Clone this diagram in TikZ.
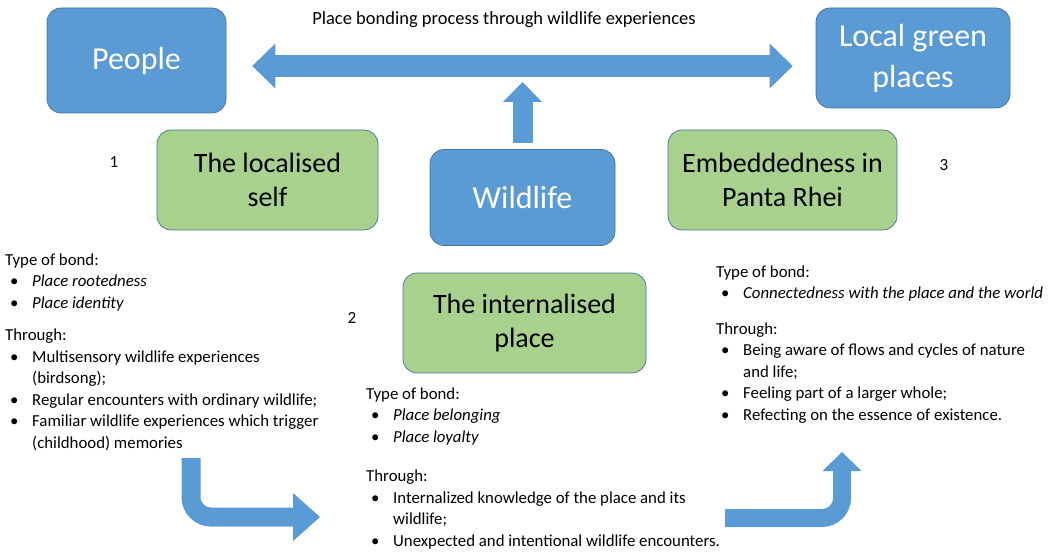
\documentclass[tikz,border=0pt]{standalone}
\usepackage{fontspec}
\setmainfont{Carlito}
\usetikzlibrary{arrows.meta}
\definecolor{bluefill}{HTML}{5B9BD5}
\definecolor{blueline}{HTML}{41719C}
\definecolor{greenfill}{HTML}{A9D18E}
\newcommand\bl{\hspace*{5pt}\makebox[22pt][l]{\textbullet}}
\newcommand\cn{\hspace*{27pt}}
\begin{document}
\begin{tikzpicture}[x=1pt,y=-1pt,
  bluebox/.style={draw=blueline, line width=0.7pt, fill=bluefill, rounded corners=14pt,
    text=white, align=center, inner sep=0pt, font=\fontsize{32}{41}\selectfont},
  greenbox/.style={draw=blueline, line width=0.7pt, fill=greenfill, rounded corners=14pt,
    text=black, align=center, inner sep=0pt, font=\fontsize{28}{34}\selectfont},
  body/.style={anchor=north west, inner sep=0pt, align=left, font=\fontsize{16.8}{21.5}\selectfont},
  numlabel/.style={inner sep=0pt, font=\fontsize{17}{19}\selectfont},
  dblarrow/.style={draw=bluefill, line width=22pt,
    {Triangle[width=45pt,length=23pt,line width=0pt]}-{Triangle[width=45pt,length=23pt,line width=0pt]}},
  uparrow/.style={draw=bluefill, line width=20pt, -{Triangle[width=39pt,length=20pt,line width=0pt]}},
  bentarrowA/.style={draw=bluefill, line width=19pt, rounded corners=20pt,
    -{Triangle[width=48pt,length=27pt,line width=0pt]}},
  bentarrowB/.style={draw=bluefill, line width=18pt, rounded corners=20pt,
    -{Triangle[width=39pt,length=19pt,line width=0pt]}}
]
\useasboundingbox (0,0) rectangle (1050,553);

% top boxes
\node[bluebox, minimum width=179pt, minimum height=105pt] (People) at (136.5,60.5) {People};
\node[bluebox, minimum width=194pt, minimum height=100pt] (Local) at (913,58) {Local green\\places};
\node[inner sep=0pt, font=\fontsize{18.5}{22}\selectfont] (title) at (504,20) {Place bonding process through wildlife experiences};

% middle boxes
\node[bluebox, minimum width=185pt, minimum height=96pt] (Wildlife) at (522.5,197.5) {Wildlife};
\node[greenbox, minimum width=221pt, minimum height=100pt] (Self) at (267.5,180) {The localised\\self};
\node[greenbox, minimum width=229pt, minimum height=100pt] (Panta) at (782.5,180) {Embeddedness in\\Panta Rhei};
\node[greenbox, minimum width=243pt, minimum height=100pt] (Place) at (524.5,323) {The internalised\\place};

% numbers
\node[numlabel] (n1) at (114,162) {1};
\node[numlabel] (n2) at (352,318) {2};
\node[numlabel] (n3) at (944,165) {3};

% arrows
\coordinate (bar) at (0,66);
\draw[dblarrow, shorten <=26pt, shorten >=23pt] (People.east |- bar) -- (Local.west |- bar);
\coordinate (uptip) at (522.5,82);
\draw[uparrow, shorten <=6pt] (Wildlife.north) -- (uptip);

\coordinate (b1s) at (191,458);
\coordinate (b1e) at (320,517);
\draw[bentarrowA] (b1s) |- (b1e);
\coordinate (b2s) at (725,518);
\coordinate (b2e) at (842,452);
\draw[bentarrowB] (b2s) -| (b2e);

% text blocks
\node[body] (left) at (5,250) {\strut Type of bond:\\
\bl\textit{Place rootedness}\\
\bl\textit{Place identity}\\[11pt]
Through:\\
\bl Multisensory wildlife experiences\\
\cn(birdsong);\\
\bl Regular encounters with ordinary wildlife;\\
\bl Familiar wildlife experiences which trigger\\
\cn(childhood) memories};

\node[body] (mid) at (366,384) {\strut Type of bond:\\
\bl\textit{Place belonging}\\
\bl\textit{Place loyalty}\\[18pt]
Through:\\
\bl Internalized knowledge of the place and its\\
\cn wildlife;\\
\bl Unexpected and intentional wildlife encounters.};

\node[body] (right) at (716,262) {\strut Type of bond:\\
\bl\textit{Connectedness with the place and the world}\\[14pt]
Through:\\
\bl Being aware of flows and cycles of nature\\
\cn and life;\\
\bl Feeling part of a larger whole;\\
\bl Refecting on the essence of existence.};
\end{tikzpicture}
\end{document}
